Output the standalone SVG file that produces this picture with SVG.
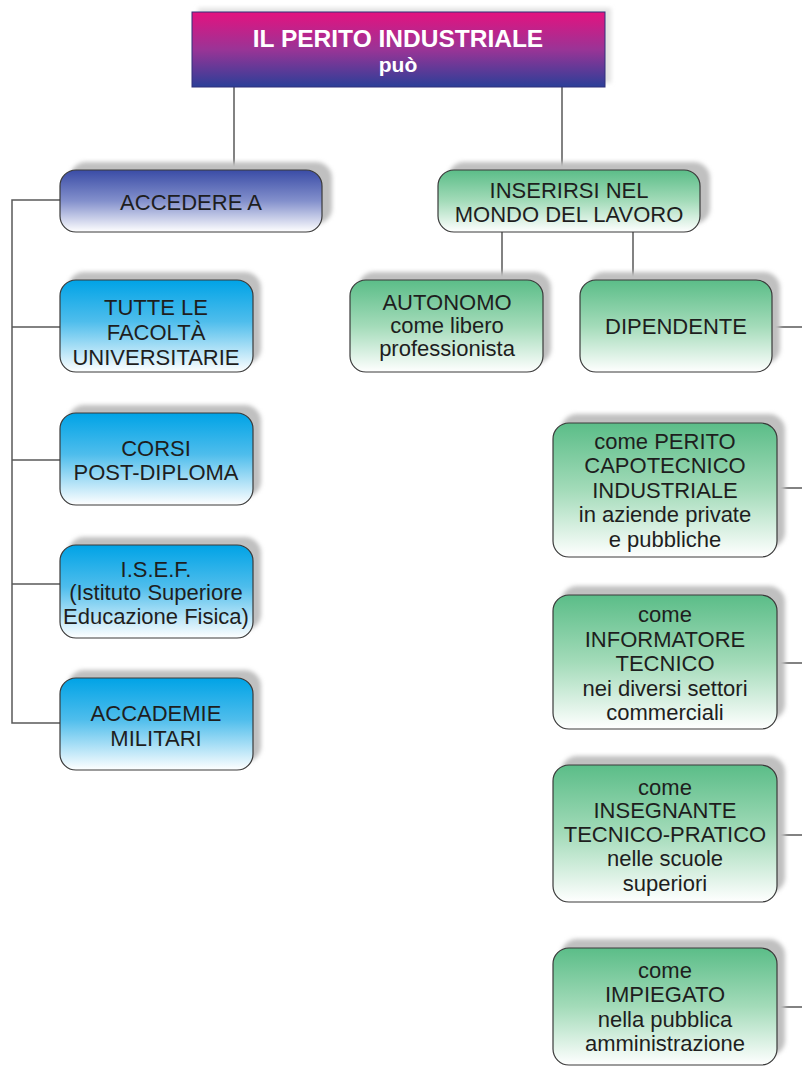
<svg xmlns="http://www.w3.org/2000/svg" width="802" height="1069" viewBox="0 0 802 1069">
<defs>
<linearGradient id="gTop" x1="0" y1="0" x2="0" y2="1">
<stop offset="0" stop-color="#e4127f"/>
<stop offset="0.5" stop-color="#9a3496"/>
<stop offset="1" stop-color="#2b3f98"/>
</linearGradient>
<linearGradient id="gAcc" x1="0" y1="0" x2="0" y2="1">
<stop offset="0" stop-color="#3a4ca6"/>
<stop offset="0.5" stop-color="#8390cc"/>
<stop offset="1" stop-color="#ffffff"/>
</linearGradient>
<linearGradient id="gBlue" x1="0" y1="0" x2="0" y2="1">
<stop offset="0" stop-color="#00a3e6"/>
<stop offset="0.45" stop-color="#4ebdec"/>
<stop offset="1" stop-color="#ffffff"/>
</linearGradient>
<linearGradient id="gGreen" x1="0" y1="0" x2="0" y2="1">
<stop offset="0" stop-color="#5bbd88"/>
<stop offset="0.5" stop-color="#a3dbb9"/>
<stop offset="1" stop-color="#ffffff"/>
</linearGradient>
<filter id="blur" x="-10%" y="-10%" width="120%" height="120%"><feGaussianBlur stdDeviation="2"/></filter>
</defs>
<style>
.sh{fill:#c0c0c0;filter:url(#blur)}
.box{stroke:#3a3a3a;stroke-width:1.2}
.t{font-family:"Liberation Sans",Arial,sans-serif;font-size:22px;fill:#1e1e1e;text-anchor:middle}
.tt{font-family:"Liberation Sans",Arial,sans-serif;font-weight:bold;fill:#ffffff;text-anchor:middle}
.c{stroke:#5a5a5a;stroke-width:1.5;fill:none}
</style>
<g id="connectors">
<path class="c" d="M234 87V172M562 87V172"/>
<path class="c" d="M60 200H12V723H60M12 327H60M12 460H60M12 584H60"/>
<path class="c" d="M502 232V281M633 232V281"/>
<path class="c" d="M772 327H802M777 488H802M777 663H802M777 835H802M777 1007H802"/>
</g>
<g id="top">
<rect x="198" y="8" width="413" height="75" fill="#e2e2e2" filter="url(#blur)"/>
<rect x="192" y="12" width="413" height="75" fill="url(#gTop)" stroke="#30307a" stroke-width="1"/>
<text class="tt" x="398" y="47" font-size="24.5">IL PERITO INDUSTRIALE</text>
<text class="tt" x="398" y="72" font-size="21">può</text>
</g>
<g id="accedere">
<rect class="sh" x="70" y="162" width="262" height="62" rx="16"/>
<rect class="box" x="60" y="170" width="262" height="62" rx="16" fill="url(#gAcc)"/>
<text class="t" x="191" y="210">ACCEDERE A</text>
</g>
<g id="facolta">
<rect class="sh" x="68" y="272" width="193" height="92" rx="16"/>
<rect class="box" x="60" y="280" width="193" height="92" rx="16" fill="url(#gBlue)"/>
<text class="t" x="156" y="315">TUTTE LE</text>
<text class="t" x="156" y="340">FACOLTÀ</text>
<text class="t" x="156" y="365">UNIVERSITARIE</text>
</g>
<g id="corsi">
<rect class="sh" x="68" y="405" width="193" height="92" rx="16"/>
<rect class="box" x="60" y="413" width="193" height="92" rx="16" fill="url(#gBlue)"/>
<text class="t" x="156" y="456">CORSI</text>
<text class="t" x="156" y="480">POST-DIPLOMA</text>
</g>
<g id="isef">
<rect class="sh" x="68" y="537" width="193" height="93" rx="16"/>
<rect class="box" x="60" y="545" width="193" height="93" rx="16" fill="url(#gBlue)"/>
<text class="t" x="156" y="577">I.S.E.F.</text>
<text class="t" x="156" y="600">(Istituto Superiore</text>
<text class="t" x="156" y="624">Educazione Fisica)</text>
</g>
<g id="accademie">
<rect class="sh" x="68" y="670" width="193" height="92" rx="16"/>
<rect class="box" x="60" y="678" width="193" height="92" rx="16" fill="url(#gBlue)"/>
<text class="t" x="156" y="721">ACCADEMIE</text>
<text class="t" x="156" y="746">MILITARI</text>
</g>
<g id="inserirsi">
<rect class="sh" x="448" y="162" width="262" height="62" rx="16"/>
<rect class="box" x="438" y="170" width="262" height="62" rx="16" fill="url(#gGreen)"/>
<text class="t" x="569" y="198">INSERIRSI NEL</text>
<text class="t" x="569" y="222">MONDO DEL LAVORO</text>
</g>
<g id="autonomo">
<rect class="sh" x="358" y="272" width="193" height="92" rx="16"/>
<rect class="box" x="350" y="280" width="193" height="92" rx="16" fill="url(#gGreen)"/>
<text class="t" x="447" y="310">AUTONOMO</text>
<text class="t" x="447" y="333">come libero</text>
<text class="t" x="447" y="356">professionista</text>
</g>
<g id="dipendente">
<rect class="sh" x="588" y="272" width="192" height="92" rx="16"/>
<rect class="box" x="580" y="280" width="192" height="92" rx="16" fill="url(#gGreen)"/>
<text class="t" x="676" y="334">DIPENDENTE</text>
</g>
<g id="perito">
<rect class="sh" x="561" y="414" width="224" height="134" rx="16"/>
<rect class="box" x="553" y="423" width="224" height="134" rx="16" fill="url(#gGreen)"/>
<text class="t" x="665" y="449">come PERITO</text>
<text class="t" x="665" y="473">CAPOTECNICO</text>
<text class="t" x="665" y="498">INDUSTRIALE</text>
<text class="t" x="665" y="522">in aziende private</text>
<text class="t" x="665" y="547">e pubbliche</text>
</g>
<g id="informatore">
<rect class="sh" x="561" y="586" width="224" height="134" rx="16"/>
<rect class="box" x="553" y="595" width="224" height="134" rx="16" fill="url(#gGreen)"/>
<text class="t" x="665" y="622">come</text>
<text class="t" x="665" y="647">INFORMATORE</text>
<text class="t" x="665" y="671">TECNICO</text>
<text class="t" x="665" y="696">nei diversi settori</text>
<text class="t" x="665" y="720">commerciali</text>
</g>
<g id="insegnante">
<rect class="sh" x="561" y="756" width="224" height="137" rx="16"/>
<rect class="box" x="553" y="765" width="224" height="137" rx="16" fill="url(#gGreen)"/>
<text class="t" x="665" y="795">come</text>
<text class="t" x="665" y="818">INSEGNANTE</text>
<text class="t" x="665" y="842">TECNICO-PRATICO</text>
<text class="t" x="665" y="866">nelle scuole</text>
<text class="t" x="665" y="891">superiori</text>
</g>
<g id="impiegato">
<rect class="sh" x="561" y="939" width="224" height="117" rx="16"/>
<rect class="box" x="553" y="948" width="224" height="117" rx="16" fill="url(#gGreen)"/>
<text class="t" x="665" y="978">come</text>
<text class="t" x="665" y="1002">IMPIEGATO</text>
<text class="t" x="665" y="1027">nella pubblica</text>
<text class="t" x="665" y="1051">amministrazione</text>
</g>
</svg>
